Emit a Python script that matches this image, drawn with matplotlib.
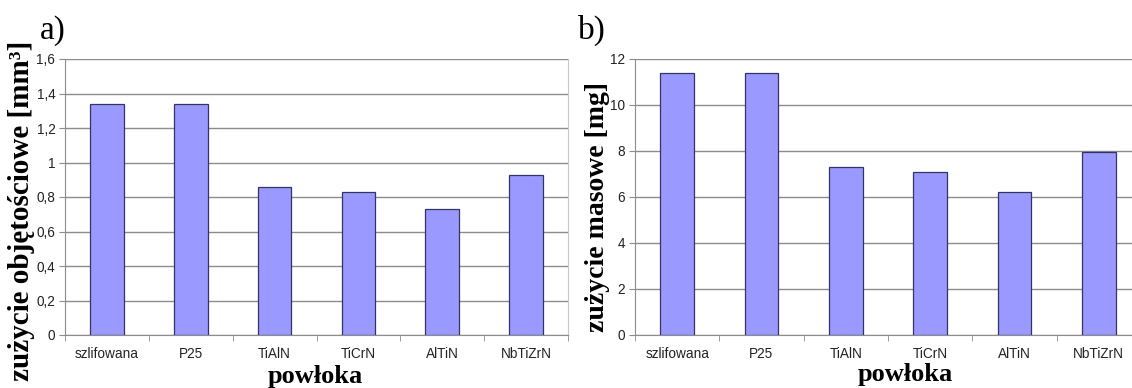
import matplotlib

matplotlib.use("Agg")
import matplotlib.pyplot as plt
from matplotlib.ticker import FuncFormatter, FixedLocator

categories = ["szlifowana", "P25", "TiAlN", "TiCrN", "AlTiN", "NbTiZrN"]
volume_wear = [1.34, 1.34, 0.86, 0.83, 0.73, 0.93]
mass_wear = [11.4, 11.4, 7.3, 7.1, 6.2, 7.95]
volume_ticks = [0, 0.2, 0.4, 0.6, 0.8, 1.0, 1.2, 1.4, 1.6]
mass_ticks = [0, 2, 4, 6, 8, 10, 12]

W, H = 1132, 388
BAR_FACE = "#9999ff"
BAR_EDGE = "#333366"
GRID = "#8c8c8c"
SERIF = "Liberation Serif"
SANS = "Liberation Sans"


def comma_fmt(v, _pos):
    return f"{v:g}".replace(".", ",")


def px_axes(fig, x0, x1, y_top, y_bottom):
    return fig.add_axes([x0 / W, 1 - y_bottom / H, (x1 - x0) / W, (y_bottom - y_top) / H])


def style_axes(ax, values, ticks):
    x = list(range(len(categories)))
    ax.bar(x, values, width=0.4, color=BAR_FACE, edgecolor=BAR_EDGE, linewidth=0.9, zorder=3)
    ax.set_xlim(-0.5, len(categories) - 0.5)
    ax.set_ylim(ticks[0], ticks[-1])
    ax.set_yticks(ticks)
    ax.yaxis.set_major_formatter(FuncFormatter(comma_fmt))
    ax.yaxis.grid(True, color=GRID, linewidth=1.0)
    ax.set_axisbelow(True)

    ax.set_xticks(x)
    ax.set_xticklabels(categories)
    ax.xaxis.set_minor_locator(FixedLocator([i - 0.5 for i in range(len(categories) + 1)]))
    ax.tick_params(axis="x", which="major", length=0, pad=9)
    ax.tick_params(axis="x", which="minor", length=4, color=GRID, direction="out")
    ax.tick_params(axis="y", length=4, color=GRID, direction="out", pad=3)
    for lab in ax.get_xticklabels() + ax.get_yticklabels():
        lab.set_fontfamily(SANS)
        lab.set_fontsize(9.8)
        lab.set_color("#222222")

    ax.spines["top"].set_visible(False)
    ax.spines["left"].set_color(GRID)
    ax.spines["bottom"].set_color(GRID)
    ax.spines["right"].set_color("#c8c8c8")


fig = plt.figure(figsize=(W / 100, H / 100), dpi=100)

ax_a = px_axes(fig, 65, 568, 59, 335)
style_axes(ax_a, volume_wear, volume_ticks)

ax_b = px_axes(fig, 635, 1141, 59, 335)
style_axes(ax_b, mass_wear, mass_ticks)

# panel letters
fig.text(40 / W, 1 - 31 / H, "a)", fontfamily=SERIF, fontsize=24, ha="left", va="center")
fig.text(578 / W, 1 - 30 / H, "b)", fontfamily=SERIF, fontsize=24, ha="left", va="center")

# axis titles
fig.text(22 / W, 1 - 211 / H, "zużycie objętościowe [mm³]", fontfamily=SERIF,
         fontweight="bold", fontsize=21, rotation=90, ha="center", va="center")
fig.text(598 / W, 1 - 207 / H, "zużycie masowe [mg]", fontfamily=SERIF,
         fontweight="bold", fontsize=20, rotation=90, ha="center", va="center")
fig.text(315 / W, 1 - 376 / H, "powłoka", fontfamily=SERIF, fontweight="bold",
         fontsize=19, ha="center", va="center")
fig.text(905 / W, 1 - 374 / H, "powłoka", fontfamily=SERIF, fontweight="bold",
         fontsize=19, ha="center", va="center")

fig.savefig("out.png", dpi=100)
